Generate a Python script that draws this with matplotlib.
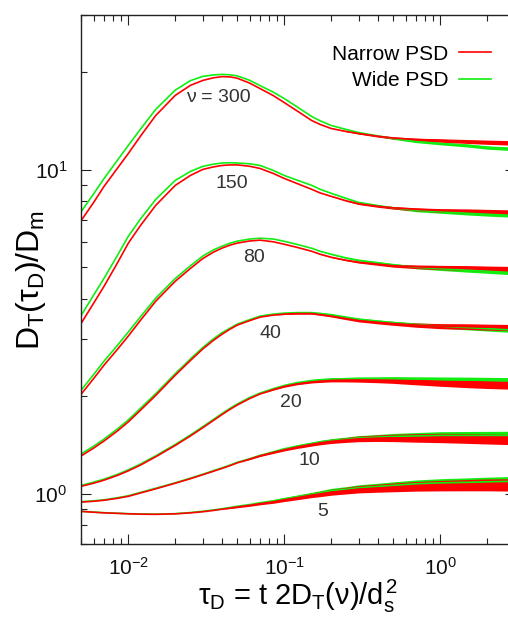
import numpy as np
import matplotlib
matplotlib.use("Agg")
import matplotlib.pyplot as plt
from matplotlib.ticker import NullFormatter, LogLocator

plt.rcParams["font.family"] = ["Liberation Sans", "DejaVu Sans"]
plt.rcParams["mathtext.fontset"] = "custom"
plt.rcParams["mathtext.rm"] = "Liberation Sans"
plt.rcParams["mathtext.it"] = "Liberation Sans"
plt.rcParams["mathtext.bf"] = "Liberation Sans:bold"

# reduced time tau_D
tau = [0.005, 0.006, 0.007, 0.0085, 0.01, 0.012, 0.015, 0.02, 0.025, 0.03,
       0.035, 0.04, 0.045, 0.05, 0.06, 0.07, 0.085, 0.1, 0.12, 0.15,
       0.17, 0.2, 0.25, 0.3, 0.4, 0.5, 0.7, 1.0, 1.5, 2.0, 3.0]

# D_T(tau_D)/D_m, narrow PSD (red)
narrow_300 = [6.98, 7.93, 8.89, 10.09, 11.22, 12.71, 14.70, 16.95, 18.20, 18.85,
              19.20, 19.37, 19.33, 19.15, 18.50, 17.79, 16.93, 16.11, 15.22, 14.18,
              13.79, 13.40, 13.12, 12.93, 12.68, 12.53, 12.39, 12.31, 12.22, 12.16, 12.09]
narrow_150 = [3.366, 3.878, 4.375, 5.149, 5.934, 6.740, 7.766, 8.947, 9.60, 10.02,
              10.20, 10.31, 10.35, 10.35, 10.25, 10.09, 9.74, 9.40, 9.08, 8.70,
              8.48, 8.28, 8.02, 7.85, 7.71, 7.63, 7.55, 7.49, 7.46, 7.43, 7.39]
narrow_80 = [2.035, 2.271, 2.499, 2.790, 3.069, 3.438, 3.933, 4.530, 4.960, 5.320,
             5.565, 5.735, 5.858, 5.940, 6.030, 6.065, 5.996, 5.891, 5.768, 5.605,
             5.488, 5.373, 5.259, 5.186, 5.112, 5.058, 5.022, 4.997, 4.979, 4.958, 4.933]
narrow_40 = [1.312, 1.386, 1.458, 1.564, 1.669, 1.815, 2.015, 2.325, 2.580, 2.800,
             2.973, 3.113, 3.226, 3.319, 3.426, 3.512, 3.562, 3.588, 3.601, 3.601,
             3.575, 3.537, 3.474, 3.426, 3.383, 3.354, 3.319, 3.295, 3.284, 3.272, 3.260]
narrow_20 = [1.057, 1.080, 1.104, 1.141, 1.179, 1.229, 1.303, 1.412, 1.510, 1.601,
             1.684, 1.760, 1.826, 1.882, 1.970, 2.035, 2.098, 2.146, 2.185, 2.216,
             2.228, 2.240, 2.243, 2.243, 2.238, 2.232, 2.216, 2.200, 2.185, 2.177, 2.169]
narrow_10 = [0.945, 0.950, 0.957, 0.970, 0.984, 1.008, 1.038, 1.080, 1.115, 1.147,
             1.175, 1.200, 1.224, 1.248, 1.281, 1.312, 1.343, 1.369, 1.395, 1.423,
             1.438, 1.454, 1.469, 1.480, 1.487, 1.490, 1.490, 1.490, 1.485, 1.480, 1.474]
narrow_5 = [0.884, 0.879, 0.875, 0.872, 0.869, 0.867, 0.866, 0.869, 0.875, 0.882,
            0.890, 0.898, 0.905, 0.912, 0.923, 0.934, 0.946, 0.960, 0.974, 0.992,
            1.001, 1.013, 1.025, 1.035, 1.043, 1.049, 1.057, 1.062, 1.066, 1.068, 1.068]

# D_T(tau_D)/D_m, wide PSD (green)
wide_300 = [7.44, 8.43, 9.40, 10.68, 11.88, 13.36, 15.35, 17.60, 18.82, 19.40,
            19.60, 19.68, 19.62, 19.47, 18.87, 18.17, 17.35, 16.58, 15.66, 14.59,
            14.15, 13.69, 13.31, 13.02, 12.71, 12.49, 12.22, 12.05, 11.88, 11.71, 11.59]
wide_150 = [3.562, 4.105, 4.630, 5.430, 6.232, 7.058, 8.10, 9.27, 9.88, 10.24,
            10.40, 10.49, 10.51, 10.49, 10.43, 10.31, 9.95, 9.60, 9.30, 8.95,
            8.70, 8.46, 8.16, 7.93, 7.75, 7.63, 7.49, 7.42, 7.34, 7.29, 7.23]
wide_80 = [2.094, 2.337, 2.571, 2.870, 3.158, 3.525, 4.018, 4.620, 5.054, 5.416,
           5.654, 5.815, 5.940, 6.023, 6.114, 6.150, 6.115, 6.017, 5.891, 5.726,
           5.605, 5.488, 5.346, 5.259, 5.167, 5.094, 5.004, 4.952, 4.899, 4.865, 4.813]
wide_40 = [1.331, 1.405, 1.478, 1.586, 1.693, 1.840, 2.040, 2.350, 2.608, 2.829,
           3.005, 3.147, 3.249, 3.342, 3.450, 3.537, 3.588, 3.613, 3.626, 3.626,
           3.606, 3.575, 3.512, 3.462, 3.413, 3.378, 3.331, 3.295, 3.260, 3.237, 3.203]
wide_20 = [1.064, 1.088, 1.112, 1.149, 1.188, 1.238, 1.312, 1.422, 1.521, 1.613,
           1.696, 1.773, 1.839, 1.896, 1.985, 2.049, 2.113, 2.162, 2.205, 2.240,
           2.252, 2.263, 2.268, 2.271, 2.271, 2.271, 2.263, 2.255, 2.247, 2.240, 2.232]
wide_10 = [0.947, 0.953, 0.960, 0.974, 0.988, 1.012, 1.042, 1.083, 1.119, 1.151,
           1.180, 1.205, 1.229, 1.253, 1.285, 1.316, 1.350, 1.379, 1.405, 1.433,
           1.448, 1.464, 1.478, 1.490, 1.499, 1.506, 1.511, 1.517, 1.517, 1.517, 1.517]
wide_5 = [0.885, 0.880, 0.876, 0.873, 0.870, 0.868, 0.867, 0.870, 0.877, 0.885,
          0.893, 0.901, 0.909, 0.917, 0.928, 0.940, 0.953, 0.967, 0.981, 0.999,
          1.009, 1.024, 1.035, 1.046, 1.056, 1.064, 1.076, 1.083, 1.087, 1.091, 1.095]

# relative noise (percent) of the long-time data
noise_300 = [0] * 22 + [0.2, 0.4, 0.6, 0.8, 1.0, 1.2, 1.4, 1.5, 1.6]
noise_150 = [0] * 21 + [0.2, 0.35, 0.5, 0.7, 0.9, 1.1, 1.3, 1.5, 1.6, 1.7]
noise_80 = [0] * 20 + [0.15, 0.3, 0.45, 0.6, 0.8, 1.0, 1.3, 1.5, 1.7, 1.8, 2.0]
noise_40 = [0] * 17 + [0.3, 0.35, 0.4, 0.5, 0.6, 0.75, 0.9, 1.05, 1.2, 1.5, 1.8,
                       2.0, 2.1, 2.2]
noise_20 = [0] * 16 + [0.3, 0.5, 0.6, 0.7, 0.85, 1.0, 1.15, 1.3, 1.5, 1.7, 2.0,
                       2.3, 2.6, 2.8, 3.0]
noise_10 = [0] * 14 + [0.3, 0.5, 0.65, 0.8, 1.0, 1.2, 1.35, 1.5, 1.75, 2.0, 2.3,
                       2.6, 3.0, 3.3, 3.5, 3.6, 3.7]
noise_5 = [0] * 12 + [0.3, 0.5, 0.65, 0.8, 1.0, 1.2, 1.45, 1.7, 1.9, 2.1, 2.35,
                      2.6, 2.85, 3.1, 3.4, 3.7, 4.0, 4.2, 4.4]

nu_labels = ["\u03bd = 300", "150", "80", "40", "20", "10", "5"]

narrow = [narrow_300, narrow_150, narrow_80, narrow_40, narrow_20, narrow_10, narrow_5]
wide = [wide_300, wide_150, wide_80, wide_40, wide_20, wide_10, wide_5]
noise = [noise_300, noise_150, noise_80, noise_40, noise_20, noise_10, noise_5]

red = "#ff0000"
green = "#11ee11"

fig = plt.figure(figsize=(5.08, 6.21), dpi=100)
ax = fig.add_axes([81.3 / 508, 76.7 / 621, 433.4 / 508, 529.3 / 621])
ax.set_xscale("log")
ax.set_yscale("log")

t = np.array(tau)
for w, s in zip(wide, noise):
    w = np.array(w)
    s = np.array(s) / 100 * 0.8
    ax.fill_between(t, w * (1 - s), w * (1 + s), color=green, lw=0)
    ax.plot(t, w, color=green, lw=1.2)
for n, s in zip(narrow, noise):
    n = np.array(n)
    s = np.array(s) / 100
    ax.fill_between(t, n * (1 - s), n * (1 + s), color=red, lw=0)
    ax.plot(t, n, color=red, lw=1.2)

# curve labels
label_pos = [(0.0376, 16.7), (0.0462, 9.08), (0.064, 5.37), (0.081, 3.135),
             (0.110, 1.91), (0.144, 1.266), (0.175, 0.882)]
for lab, (x, y) in zip(nu_labels, label_pos):
    ax.text(x, y, lab, ha="center", va="center", fontsize=14, color="#333333")

ax.set_xlim(0.005, 3)
ax.set_ylim(0.7, 30)

ax.xaxis.set_minor_locator(LogLocator(base=10, subs=np.arange(2, 10), numticks=20))
ax.yaxis.set_minor_locator(LogLocator(base=10, subs=np.arange(2, 10), numticks=20))
ax.xaxis.set_minor_formatter(NullFormatter())
ax.yaxis.set_minor_formatter(NullFormatter())

ax.tick_params(which="both", direction="in", top=True, right=True,
               color="#222222", width=0.8, labelsize=15, labelcolor="#111111")
ax.tick_params(which="major", length=7.5)
ax.tick_params(which="minor", length=4)
ax.tick_params(axis="x", pad=9)
ax.tick_params(axis="y", pad=10)
for sp in ax.spines.values():
    sp.set_color("#222222")
    sp.set_linewidth(1.0)

ax.set_xlabel("$τ_\\mathrm{D}$ = t 2$D_\\mathrm{T}$(ν)/$d_\\mathrm{s}^2$", fontsize=21, labelpad=-1)
ax.set_ylabel("$D_\\mathrm{T}$(τ$_\\mathrm{D}$)/$D_\\mathrm{m}$", fontsize=23)
ax.yaxis.set_label_coords(-0.077, 0.5)

h1, = ax.plot([], [], color=red, lw=1.2, label="Narrow PSD")
h2, = ax.plot([], [], color=green, lw=1.2, label="Wide PSD")
ax.legend(handles=[h1, h2], loc="upper right", bbox_to_anchor=(0.945, 0.944),
          markerfirst=False, frameon=False, fontsize=15, handlelength=1.55,
          handletextpad=0.5, labelspacing=0.35, borderpad=0, borderaxespad=0)

fig.savefig("out.png", dpi=100)
